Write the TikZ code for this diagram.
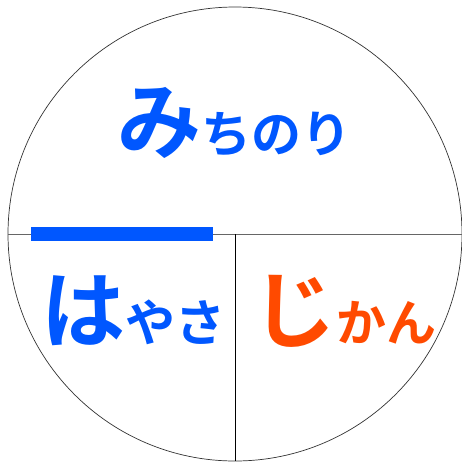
\documentclass[tikz,border=0pt]{standalone}
\usepackage{fontspec}
\newfontfamily\jp{Noto Sans CJK JP}[BoldFont={* Bold}]
\definecolor{kblue}{HTML}{0057FF}
\definecolor{korange}{HTML}{FF4A00}
\tikzset{
  lbl/.style={inner sep=0pt, anchor=base west, font=\jp\bfseries},
  divider/.style={draw=black!60, line width=0.8pt},
}
\begin{document}
\begin{tikzpicture}[x=1pt,y=1pt]
\useasboundingbox (0,0) rectangle (462,-461);
\coordinate (c) at (235,-234);
\draw[black!80, line width=0.7pt] (c) circle (227);
\coordinate (L) at (8,-234);
\coordinate (R) at (462,-234);
\coordinate (B) at (235,-461);
\draw[divider] (L) -- (R);
\draw[black, line width=0.8pt] (c) -- (B);
\fill[kblue] (31,-227) rectangle (213,-241);
\node[lbl, text=kblue] (dist) at (117,-152) {{\fontsize{84}{84}\selectfont み}{\fontsize{50}{50}\selectfont ちのり}};
\node[lbl, text=kblue] (speed) at (41,-341) {{\fontsize{84}{84}\selectfont は}{\fontsize{50}{50}\selectfont やさ}};
\node[lbl, text=korange] (time) at (252,-341) {{\fontsize{84}{84}\selectfont じ}{\fontsize{50}{50}\selectfont かん}};
\end{tikzpicture}
\end{document}
